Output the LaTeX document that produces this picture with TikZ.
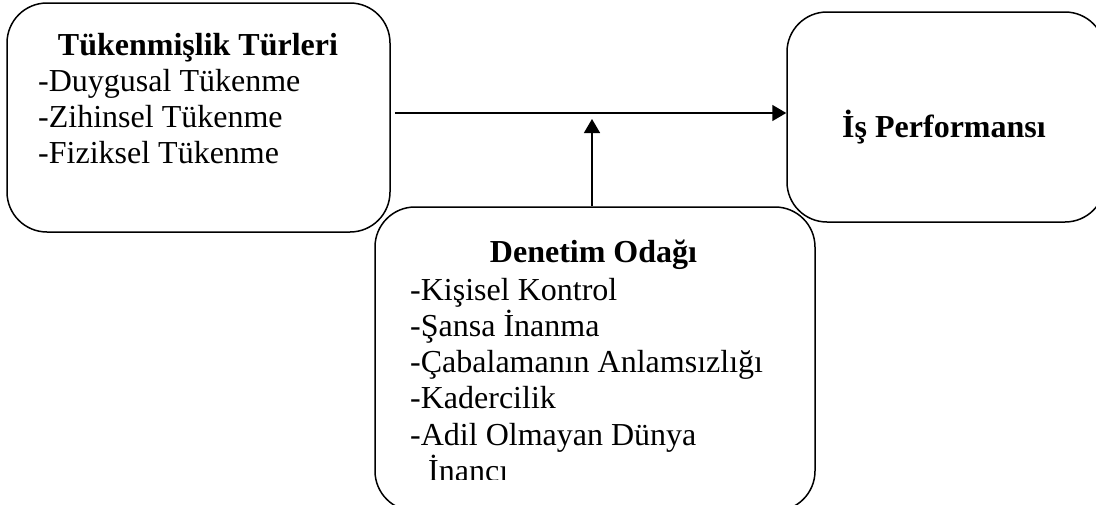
\documentclass[tikz,border=0pt]{standalone}
\usepackage{fontspec}
\setmainfont{Liberation Serif}
\usetikzlibrary{arrows.meta}
\tikzset{
  kotak/.style={draw, line width=1.5pt, rounded corners=40pt, inner sep=0pt},
  panah/.style={line width=1.5pt, -{Triangle[length=14pt,width=16pt]}},
  teks/.style={font=\fontsize{32}{36}\selectfont, inner sep=0pt},
}
\begin{document}
\begin{tikzpicture}[x=1pt,y=-1pt]
      % Batas gambar (kotak kanan dan bawah terpotong)
      \clip (0,0) rectangle (1096,504);

      % Kotak-kotak utama
      \node[kotak, minimum width=383pt, minimum height=229pt] (turler) at (198.5,117.5) {};
      \node[kotak, minimum width=318pt, minimum height=210pt] (performans) at (946,117) {};
      \node[kotak, minimum width=440pt, minimum height=304pt] (denetim) at (595,359) {};

      % Teks kotak kiri
      \node[teks, anchor=base] (judulT) at (198,55) {\textbf{Tükenmişlik Türleri}};
      \foreach \t [count=\i] in {Duygusal Tükenme, Zihinsel Tükenme, Fiziksel Tükenme}{
          \node[teks, anchor=base west] (t\i) at (38,{54.7+36.3*\i}) {-\t};
        }

      % Teks kotak kanan
      \node[teks, anchor=base] (judulP) at (944,137) {\textbf{İş Performansı}};

      % Teks kotak bawah
      \node[teks, anchor=base] (judulD) at (593.5,262) {\textbf{Denetim Odağı}};
      \foreach \t [count=\i] in {Kişisel Kontrol, Şansa İnanma, Çabalamanın Anlamsızlığı, Kadercilik, Adil Olmayan Dünya}{
          \node[teks, anchor=base west] (d\i) at (410,{263.7+36.3*\i}) {-\t};
        }
      % Baris terakhir terpotong oleh tepi kotak teks
      \begin{scope}
        \clip (380,420) rectangle (800,479);
        \node[teks, anchor=base west] (d6) at (428,481.5) {İnancı};
      \end{scope}

      % Titik bantu untuk panah
      \coordinate (garis) at (0,113);
      \coordinate (ujungV) at (592,119);

      % Panah
      \draw[panah] ([xshift=4pt]turler.east |- garis) -- (performans.west |- garis);
      \draw[panah] (denetim.north -| ujungV) -- (ujungV);
    \end{tikzpicture}
\end{document}
